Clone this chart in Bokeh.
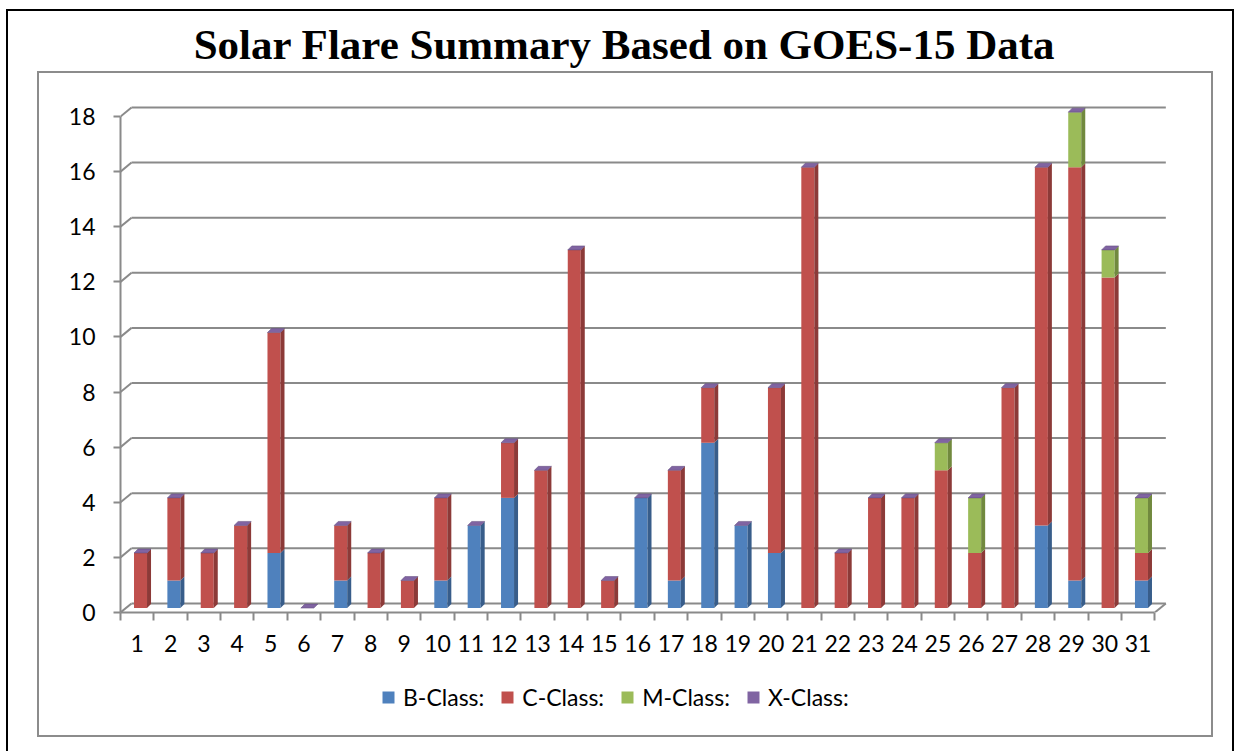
import numpy as np
from bokeh.plotting import figure
from bokeh.layouts import column
from bokeh.models import Range1d, FixedTicker, Legend, LegendItem, Label
from bokeh.embed import file_html
from bokeh.resources import INLINE

# ---- data ----
days = list(range(1, 32))
b_class = [0, 1, 0, 0, 2, 0, 1, 0, 0, 1, 3, 4, 0, 0, 0, 4, 1, 6, 3, 2, 0, 0, 0, 0, 0, 0, 0, 3, 1, 0, 1]
c_class = [2, 3, 2, 3, 8, 0, 2, 2, 1, 3, 0, 2, 5, 13, 1, 0, 4, 2, 0, 6, 16, 2, 4, 4, 5, 2, 8, 13, 15, 12, 1]
m_class = [0, 0, 0, 0, 0, 0, 0, 0, 0, 0, 0, 0, 0, 0, 0, 0, 0, 0, 0, 0, 0, 0, 0, 0, 1, 2, 0, 0, 2, 1, 2]
x_class = [0] * 31
y_ticks = [0, 2, 4, 6, 8, 10, 12, 14, 16, 18]
title_text = "Solar Flare Summary Based on GOES-15 Data"
legend_labels = ["B-Class:", "C-Class:", "M-Class:", "X-Class:"]

front_colors = ["#4F81BD", "#C0504D", "#9BBB59", "#8064A2"]
side_colors = ["#385D8A", "#8C3A38", "#71893E", "#5F497A"]
GRID = "#8a8a8a"


def bare(fig):
    fig.axis.visible = False
    fig.grid.visible = False
    fig.outline_line_color = None


# ---- title strip ----
t = figure(width=1174, height=60, output_backend="svg", toolbar_location=None, title=None,
           x_range=Range1d(0, 1), y_range=Range1d(0, 1),
           min_border=0, min_border_left=0, min_border_right=0, min_border_top=0, min_border_bottom=0)
bare(t)
t.add_layout(Label(x=0.5, y=0.45, text=title_text, text_align="center", text_baseline="middle",
                   text_font="Liberation Serif", text_font_style="bold", text_font_size="43px",
                   text_color="black"))

# ---- chart ----
p = figure(width=1172, height=600, output_backend="svg", toolbar_location=None, title=None,
           x_range=Range1d(0.5, 32.0), y_range=Range1d(0, 18.8),
           min_border_left=81, min_border_right=40, min_border_top=21, min_border_bottom=61)
p.outline_line_color = None
p.xgrid.visible = False
p.ygrid.visible = False

# 3D offsets
gx, gy = 0.33, 0.33      # wall depth
bx, by = 0.10, 0.16      # bar placement (mid depth)
bw = 0.39                # bar front width
sx, sy = 0.12, 0.145     # bar depth

# back wall grid lines + diagonals
x_left, x_right = 0.5, 31.5
x0s, y0s, x1s, y1s = [], [], [], []
for tk in y_ticks:
    x0s += [x_left + gx, x_left]
    y0s += [tk + gy, tk]
    x1s += [x_right + gx, x_left + gx]
    y1s += [tk + gy, tk + gy]
x0s.append(x_right); y0s.append(0); x1s.append(x_right + gx); y1s.append(gy)
p.segment(x0=x0s, y0=y0s, x1=x1s, y1=y1s, line_color=GRID, line_width=2)

# stacked 3D bars
series = [b_class, c_class, m_class]
bottom = np.zeros(31)
for i, vals in enumerate(series):
    vals = np.array(vals, dtype=float)
    top = bottom + vals
    mask = vals > 0
    xs = np.array(days, dtype=float)[mask] + bx
    p.vbar(x=xs, width=bw, bottom=bottom[mask] + by, top=top[mask] + by,
           fill_color=front_colors[i], line_color=None)
    pxs, pys = [], []
    for xc, b0, t0 in zip(xs, bottom[mask] + by, top[mask] + by):
        xr = xc + bw / 2
        pxs.append([xr, xr + sx, xr + sx, xr])
        pys.append([b0, b0 + sy, t0 + sy, t0])
    p.patches(xs=pxs, ys=pys, fill_color=side_colors[i], line_color=None)
    bottom = top

# X-class (zero) caps on top of every stack
totals = bottom + np.array(x_class, dtype=float)
cxs, cys = [], []
for d, tt in zip(days, totals):
    xl = d + bx - bw / 2
    xr = d + bx + bw / 2
    yy = tt + by
    cxs.append([xl, xr, xr + sx, xl + sx])
    cys.append([yy, yy, yy + sy, yy + sy])
p.patches(xs=cxs, ys=cys, fill_color=front_colors[3], line_color=side_colors[3], line_width=0.5)

# axes
ya = p.yaxis[0]
ya.ticker = FixedTicker(ticks=y_ticks)
ya.bounds = (0, 18)
ya.axis_line_color = GRID
ya.axis_line_width = 2
ya.major_tick_line_color = GRID
ya.major_tick_line_width = 2
ya.major_tick_out = 7
ya.major_tick_in = 0
ya.minor_tick_line_color = None
ya.major_label_text_font = "Lato"
ya.major_label_text_font_size = "23px"
ya.major_label_text_color = "black"
ya.major_label_standoff = 18

xa = p.xaxis[0]
xa.ticker = FixedTicker(ticks=days, minor_ticks=[d + 0.5 for d in [0] + days])
xa.bounds = (0.5, 31.5)
xa.axis_line_color = GRID
xa.axis_line_width = 2
xa.major_tick_line_color = None
xa.major_tick_out = 0
xa.major_tick_in = 0
xa.minor_tick_line_color = GRID
xa.minor_tick_line_width = 2
xa.minor_tick_out = 8
xa.minor_tick_in = 0
xa.major_label_text_font = "Lato"
xa.major_label_text_font_size = "23px"
xa.major_label_text_color = "black"
xa.major_label_standoff = 14

# ---- legend strip (swatches use the class series, plotted out of view) ----
lg = figure(width=1172, height=62, output_backend="svg", toolbar_location=None, title=None,
            x_range=Range1d(-200, -100), y_range=Range1d(0, 1),
            min_border=0, min_border_left=0, min_border_right=0, min_border_top=0, min_border_bottom=0)
bare(lg)
leg_renderers = []
for i, vals in enumerate([b_class, c_class, m_class, x_class]):
    leg_renderers.append(lg.scatter(x=days, y=vals, marker="square", size=12,
                                    fill_color=front_colors[i], line_color=None))
legend = Legend(items=[LegendItem(label=lab, renderers=[r]) for lab, r in zip(legend_labels, leg_renderers)],
                orientation="horizontal", location=(253, 23),
                glyph_width=30, glyph_height=30, label_standoff=0, spacing=8,
                padding=0, margin=0, border_line_color=None, background_fill_alpha=0,
                label_text_font="Lato", label_text_font_size="23px", label_text_color="black",
                label_height=20)
lg.add_layout(legend, "center")

inner = column(p, lg, styles={"border": "2px solid #8c8c8c"})
root = column(t, inner, styles={"border": "2px solid black", "padding": "0px 19px 40px 29px"})
root.margin = (9, 0, 0, 6)

open("out.html", "w").write(file_html(root, INLINE))
